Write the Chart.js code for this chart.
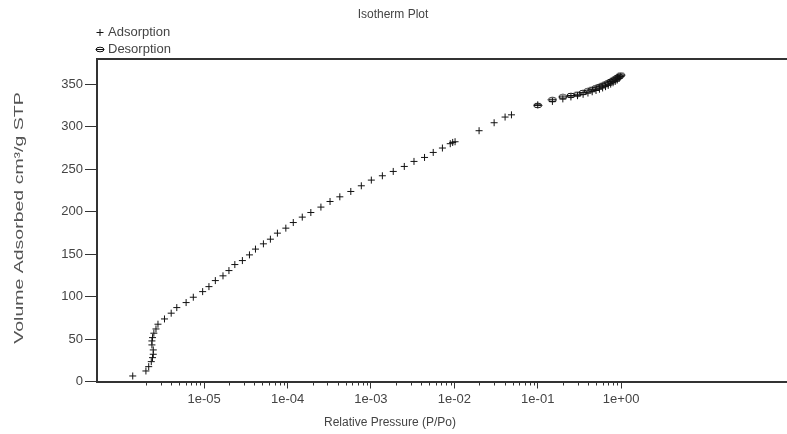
<!DOCTYPE html>
<html>
<head>
<meta charset="utf-8">
<script src="https://cdn.jsdelivr.net/npm/chart.js@4.4.0/dist/chart.umd.min.js"></script>
<style>
  html, body { margin: 0; padding: 0; background: #fff; overflow: hidden; }
</style>
</head>
<body>
<canvas id="isothermChart" width="787" height="434"></canvas>
<script>
// =======================
// Data
// =======================
const adsorptionP = [1.39e-6, 2.00e-6, 2.16e-6, 2.32e-6, 2.40e-6, 2.45e-6, 2.45e-6, 2.36e-6, 2.36e-6, 2.40e-6,
  2.49e-6, 2.64e-6, 2.79e-6, 3.34e-6, 4.02e-6, 4.69e-6, 6.07e-6, 7.40e-6, 9.58e-6, 1.14e-5,
  1.36e-5, 1.68e-5, 1.98e-5, 2.33e-5, 2.87e-5, 3.49e-5, 4.12e-5, 5.13e-5, 6.22e-5, 7.55e-5,
  9.53e-5, 1.17e-4, 1.50e-4, 1.90e-4, 2.51e-4, 3.23e-4, 4.23e-4, 5.73e-4, 7.66e-4, 1.01e-3,
  1.37e-3, 1.85e-3, 2.51e-3, 3.28e-3, 4.39e-3, 5.58e-3, 7.19e-3, 8.93e-3, 9.55e-3, 1.02e-2,
  1.98e-2, 3.00e-2, 4.06e-2, 4.84e-2,
  0.1, 0.15, 0.2, 0.25, 0.3, 0.35, 0.4, 0.45, 0.5, 0.55, 0.6, 0.65, 0.7, 0.75, 0.8, 0.85, 0.9, 0.95, 0.99];
const adsorptionV = [6.5, 12.4, 17.5, 23.4, 28.1, 32.1, 37.2, 43.1, 47.8, 51.7,
  56.9, 61.9, 67.5, 73.7, 80.5, 87.1, 93, 99.3, 105.9, 111.8,
  118.9, 124.5, 130.7, 137.8, 142.5, 149.2, 156, 162.2, 167.7, 174.8,
  180.7, 187.3, 193.7, 199.1, 205.5, 212.1, 217.6, 223.9, 230.6, 237.3,
  242.4, 247.5, 253.4, 259.3, 264, 269.9, 275.1, 280.2, 281.7, 282.5,
  295.5, 304.9, 311.6, 314.2,
  326, 330, 333, 335.3, 336.8, 338.4, 339.9, 341.4, 342.9, 344.4, 345.9, 347.4, 348.9, 350.4, 352, 353.6, 355.3, 357.2, 359.5];

const desorptionP = [0.99, 0.95, 0.9, 0.85, 0.8, 0.75, 0.7, 0.65, 0.6, 0.55, 0.5, 0.45, 0.4, 0.35, 0.3, 0.25, 0.2, 0.15, 0.1];
const desorptionV = [361, 359.6, 358, 356.5, 355, 353.5, 352, 350.5, 349, 347.5, 346, 344.3, 342.5, 340.5, 338.5, 337, 335.3, 332, 325.3];

const xTickValues = [1e-5, 1e-4, 1e-3, 1e-2, 1e-1, 1e0];
const xTickLabels = ['1e-05', '1e-04', '1e-03', '1e-02', '1e-01', '1e+00'];
const yTickValues = [0, 50, 100, 150, 200, 250, 300, 350];
const xRange = [5.18e-7, 85];
const yRange = [0, 380];

const ink = '#333';
const textInk = '#444';
const markInk = '#111';
const family = "'Liberation Sans', Arial, sans-serif";
const tickFont = { family: family, size: 13 };

// ellipse with a bar through it, as in the legend
function makeDesorptionMark() {
  const c = document.createElement('canvas');
  c.width = 10; c.height = 7;
  const g = c.getContext('2d');
  g.strokeStyle = markInk;
  g.lineWidth = 1;
  g.beginPath(); g.ellipse(5, 3.5, 4, 2.3, 0, 0, Math.PI * 2); g.stroke();
  g.beginPath(); g.moveTo(1, 3.5); g.lineTo(9, 3.5); g.stroke();
  return c;
}
const desorptionMark = makeDesorptionMark();

// top frame line, minor ticks, titles, legend
const framePlugin = {
  id: 'frame',
  afterDraw(chart) {
    const { ctx, chartArea } = chart;
    const x = chart.scales.x;
    ctx.save();
    ctx.strokeStyle = ink;
    ctx.lineWidth = 2;
    ctx.beginPath();
    ctx.moveTo(chartArea.left, chartArea.top);
    ctx.lineTo(chart.width, chartArea.top);
    // axis line runs on to the edge of the picture
    ctx.moveTo(chartArea.right - 2, Math.round(x.top));
    ctx.lineTo(chart.width, Math.round(x.top));
    ctx.stroke();

    // minor ticks between the decades
    ctx.lineWidth = 1;
    for (let e = -6; e <= -1; e++) {
      for (let k = 2; k <= 9; k++) {
        const px = Math.round(x.getPixelForValue(k * Math.pow(10, e))) + 0.5;
        if (px < chartArea.left) continue;
        ctx.beginPath();
        ctx.moveTo(px, chartArea.bottom);
        ctx.lineTo(px, chartArea.bottom + 4);
        ctx.stroke();
      }
    }

    ctx.fillStyle = textInk;
    ctx.font = '12px ' + family;
    ctx.textAlign = 'center';
    ctx.textBaseline = 'middle';
    ctx.fillText('Isotherm Plot', 393, 15);
    ctx.fillText('Relative Pressure (P/Po)', 390, 423);

    // y title, drawn long like the reference
    ctx.save();
    ctx.fillStyle = '#555';
    ctx.font = '13px ' + family;
    ctx.translate(19, 218);
    ctx.rotate(-Math.PI / 2);
    ctx.scale(1.5, 1);
    ctx.fillText('Volume Adsorbed cm³/g STP', 0, 0);
    ctx.restore();

    // legend
    ctx.font = '13px ' + family;
    ctx.textAlign = 'left';
    ctx.fillText('Adsorption', 108, 32);
    ctx.fillText('Desorption', 108, 49);
    ctx.strokeStyle = markInk;
    ctx.beginPath();
    ctx.moveTo(96.5, 32.5); ctx.lineTo(103.5, 32.5);
    ctx.moveTo(100, 29); ctx.lineTo(100, 36);
    ctx.stroke();
    ctx.drawImage(desorptionMark, 95, 46);
    ctx.restore();
  }
};

const ctx = document.getElementById('isothermChart').getContext('2d');
const isothermChart = new Chart(ctx, {
  type: 'scatter',
  data: {
    datasets: [
      {
        label: 'Adsorption',
        data: adsorptionP.map((p, i) => ({ x: p, y: adsorptionV[i] })),
        pointStyle: 'cross',
        pointRadius: 3.5,
        borderColor: markInk,
        backgroundColor: markInk,
        borderWidth: 1
      },
      {
        label: 'Desorption',
        data: desorptionP.map((p, i) => ({ x: p, y: desorptionV[i] })),
        pointStyle: desorptionMark,
        pointRadius: 4,
        borderColor: markInk,
        backgroundColor: markInk
      }
    ]
  },
  options: {
    responsive: false,
    animation: false,
    layout: { padding: { top: 59, left: 0, right: 0, bottom: 0 } },
    plugins: { legend: { display: false }, tooltip: { enabled: false } },
    scales: {
      x: {
        type: 'logarithmic',
        min: xRange[0],
        max: xRange[1],
        afterBuildTicks: s => { s.ticks = xTickValues.map(v => ({ value: v })); },
        afterFit: s => { s.height = 52.5; },
        grid: { drawOnChartArea: false, tickLength: 7, color: ink },
        border: { display: true, color: ink, width: 2 },
        ticks: {
          callback: v => xTickLabels[xTickValues.indexOf(v)],
          color: textInk, font: tickFont, padding: 3, maxRotation: 0, autoSkip: false
        }
      },
      y: {
        min: yRange[0],
        max: yRange[1],
        afterBuildTicks: s => { s.ticks = yTickValues.map(v => ({ value: v })); },
        afterFit: s => { s.width = 97; },
        grid: { drawOnChartArea: false, tickLength: 12, color: ink },
        border: { display: true, color: ink, width: 2 },
        ticks: { color: textInk, font: tickFont, padding: 2 }
      }
    }
  },
  plugins: [framePlugin]
});
</script>
</body>
</html>
